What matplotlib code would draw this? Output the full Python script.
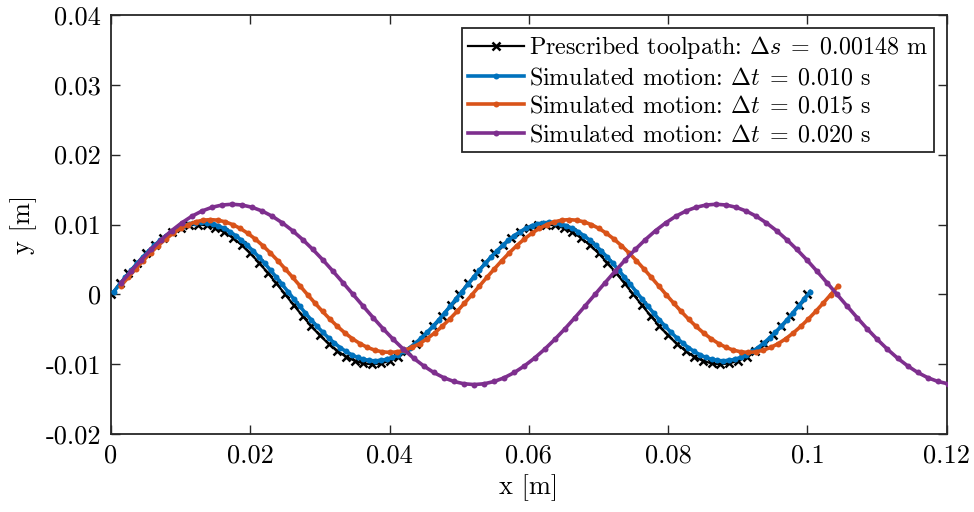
import numpy as np
import matplotlib
matplotlib.use("Agg")
from matplotlib import pyplot as plt

plt.rcParams.update({
    "font.family": "serif",
    "font.serif": ["cmr10"],
    "mathtext.fontset": "cm",
    "axes.unicode_minus": False,
    "axes.formatter.use_mathtext": True,
})

# values in mm
black_x_mm = [0, 1.25, 2.5, 3.75, 5, 6.25, 7.5, 8.75, 10, 11.25, 12.5, 13.75, 15, 16.25, 17.5,
              18.75, 20, 21.25, 22.5, 23.75, 25, 26.25, 27.5, 28.75, 30, 31.25, 32.5, 33.75,
              35, 36.25, 37.5, 38.75, 40, 41.25, 42.5, 43.75, 45, 46.25, 47.5, 48.75, 50,
              51.25, 52.5, 53.75, 55, 56.25, 57.5, 58.75, 60, 61.25, 62.5, 63.75, 65, 66.25,
              67.5, 68.75, 70, 71.25, 72.5, 73.75, 75, 76.25, 77.5, 78.75, 80, 81.25, 82.5,
              83.75, 85, 86.25, 87.5, 88.75, 90, 91.25, 92.5, 93.75, 95, 96.25, 97.5, 98.75, 100]
black_y_mm = [0, 1.56, 3.09, 4.54, 5.88, 7.07, 8.09, 8.91, 9.51, 9.88, 10.0, 9.88, 9.51, 8.91,
              8.09, 7.07, 5.88, 4.54, 3.09, 1.56, 0, -1.56, -3.09, -4.54, -5.88, -7.07, -8.09,
              -8.91, -9.51, -9.88, -10.0, -9.88, -9.51, -8.91, -8.09, -7.07, -5.88, -4.54,
              -3.09, -1.56,
              0, 1.56, 3.09, 4.54, 5.88, 7.07, 8.09, 8.91, 9.51, 9.88, 10.0, 9.88, 9.51, 8.91,
              8.09, 7.07, 5.88, 4.54, 3.09, 1.56, 0, -1.56, -3.09, -4.54, -5.88, -7.07, -8.09,
              -8.91, -9.51, -9.88, -10.0, -9.88, -9.51, -8.91, -8.09, -7.07, -5.88, -4.54,
              -3.09, -1.56, 0]

blue_x_mm = [0.40, 1.23, 2.07, 2.90, 3.73, 4.57, 5.40, 6.23, 7.07, 7.90, 8.73, 9.57,
             10.40, 11.23, 12.07, 12.90, 13.73, 14.57, 15.40, 16.23, 17.07, 17.90, 18.73, 19.57,
             20.40, 21.23, 22.07, 22.90, 23.73, 24.57, 25.40, 26.23, 27.07, 27.90, 28.73, 29.57,
             30.40, 31.23, 32.07, 32.90, 33.73, 34.57, 35.40, 36.23, 37.07, 37.90, 38.73, 39.57,
             40.40, 41.23, 42.07, 42.90, 43.73, 44.57, 45.40, 46.23, 47.07, 47.90, 48.73, 49.57,
             50.40, 51.23, 52.07, 52.90, 53.73, 54.57, 55.40, 56.23, 57.07, 57.90, 58.73, 59.57,
             60.40, 61.23, 62.07, 62.90, 63.73, 64.57, 65.40, 66.23, 67.07, 67.90, 68.73, 69.57,
             70.40, 71.23, 72.07, 72.90, 73.73, 74.57, 75.40, 76.23, 77.07, 77.90, 78.73, 79.57,
             80.40, 81.23, 82.07, 82.90, 83.73, 84.57, 85.40, 86.23, 87.07, 87.90, 88.73, 89.57,
             90.40, 91.23, 92.07, 92.90, 93.73, 94.57, 95.40, 96.23, 97.07, 97.90, 98.73, 99.57,
             100.40]
blue_y_mm = [0.40, 1.43, 2.46, 3.46, 4.43, 5.35, 6.22, 7.02, 7.76, 8.41, 8.97, 9.44, 9.82,
             10.08, 10.25, 10.30, 10.25, 10.08, 9.82, 9.44, 8.97, 8.41, 7.76, 7.02, 6.22, 5.35,
             4.43, 3.46, 2.46, 1.43, 0.40, -0.64, -1.66, -2.66, -3.63, -4.55, -5.42, -6.22,
             -6.96, -7.61, -8.17, -8.64, -9.02, -9.28, -9.45, -9.50, -9.45, -9.28, -9.02, -8.64,
             -8.17, -7.61, -6.96, -6.22, -5.42, -4.55, -3.63, -2.66, -1.66, -0.64,
             0.40, 1.43, 2.46, 3.46, 4.43, 5.35, 6.22, 7.02, 7.76, 8.41, 8.97, 9.44, 9.82,
             10.08, 10.25, 10.30, 10.25, 10.08, 9.82, 9.44, 8.97, 8.41, 7.76, 7.02, 6.22, 5.35,
             4.43, 3.46, 2.46, 1.43, 0.40, -0.64, -1.66, -2.66, -3.63, -4.55, -5.42, -6.22,
             -6.96, -7.61, -8.17, -8.64, -9.02, -9.28, -9.45, -9.50, -9.45, -9.28, -9.02, -8.64,
             -8.17, -7.61, -6.96, -6.22, -5.42, -4.55, -3.63, -2.66, -1.66, -0.64, 0.40]

orange_x_mm = [1.40, 2.47, 3.55, 4.62, 5.69, 6.76, 7.84, 8.91, 9.98, 11.06,
               12.13, 13.20, 14.28, 15.35, 16.42, 17.49, 18.57, 19.64, 20.71, 21.79,
               22.86, 23.93, 25.00, 26.08, 27.15, 28.22, 29.30, 30.37, 31.44, 32.51,
               33.59, 34.66, 35.73, 36.81, 37.88, 38.95, 40.03, 41.10, 42.17, 43.24,
               44.32, 45.39, 46.46, 47.54, 48.61, 49.68, 50.75, 51.83, 52.90, 53.97,
               55.05, 56.12, 57.19, 58.26, 59.34, 60.41, 61.48, 62.56, 63.63, 64.70,
               65.78, 66.85, 67.92, 68.99, 70.07, 71.14, 72.21, 73.29, 74.36, 75.43,
               76.50, 77.58, 78.65, 79.72, 80.80, 81.87, 82.94, 84.01, 85.09, 86.16,
               87.23, 88.31, 89.38, 90.45, 91.53, 92.60, 93.67, 94.74, 95.82, 96.89,
               97.96, 99.04, 100.11, 101.18, 102.25, 103.33, 104.40]
orange_y_mm = [1.20, 2.44, 3.66, 4.84, 5.95, 6.98, 7.92, 8.74, 9.43, 9.98, 10.38, 10.62, 10.70,
               10.62, 10.38, 9.98, 9.43, 8.74, 7.92, 6.98, 5.95, 4.84, 3.66, 2.44, 1.20, -0.04,
               -1.26, -2.44, -3.55, -4.58, -5.52, -6.34, -7.03, -7.58, -7.98, -8.22, -8.30,
               -8.22, -7.98, -7.58, -7.03, -6.34, -5.52, -4.58, -3.55, -2.44, -1.26, -0.04,
               1.20, 2.44, 3.66, 4.84, 5.95, 6.98, 7.92, 8.74, 9.43, 9.98, 10.38, 10.62, 10.70,
               10.62, 10.38, 9.98, 9.43, 8.74, 7.92, 6.98, 5.95, 4.84, 3.66, 2.44, 1.20, -0.04,
               -1.26, -2.44, -3.55, -4.58, -5.52, -6.34, -7.03, -7.58, -7.98, -8.22, -8.30,
               -8.22, -7.98, -7.58, -7.03, -6.34, -5.52, -4.58, -3.55, -2.44, -1.26, -0.04, 1.20]

purple_x_mm = [1.45, 2.90, 4.34, 5.79, 7.24, 8.69, 10.14, 11.58, 13.03, 14.48, 15.93, 17.38,
               18.82, 20.27, 21.72, 23.17, 24.61, 26.06, 27.51, 28.96, 30.41, 31.85, 33.30,
               34.75, 36.20, 37.65, 39.09, 40.54, 41.99, 43.44, 44.89, 46.33, 47.78, 49.23,
               50.68, 52.13, 53.57, 55.02, 56.47, 57.92, 59.36, 60.81, 62.26, 63.71, 65.16,
               66.60, 68.05, 69.50, 70.95, 72.40, 73.84, 75.29, 76.74, 78.19, 79.64, 81.08,
               82.53, 83.98, 85.43, 86.88, 88.32, 89.77, 91.22, 92.67, 94.11, 95.56, 97.01,
               98.46, 99.91, 101.35, 102.80, 104.25, 105.70, 107.15, 108.59, 110.04, 111.49,
               112.94, 114.39, 115.83, 117.28, 118.73, 120.18]
purple_y_mm = [1.68, 3.34, 4.94, 6.45, 7.85, 9.12, 10.23, 11.17, 11.92, 12.46, 12.79, 12.90,
               12.79, 12.46, 11.92, 11.17, 10.23, 9.12, 7.85, 6.45, 4.94, 3.34, 1.68, 0,
               -1.68, -3.34, -4.94, -6.45, -7.85, -9.12, -10.23, -11.17, -11.92, -12.46, -12.79,
               -12.90, -12.79, -12.46, -11.92, -11.17, -10.23, -9.12, -7.85, -6.45, -4.94, -3.34,
               -1.68, 0,
               1.68, 3.34, 4.94, 6.45, 7.85, 9.12, 10.23, 11.17, 11.92, 12.46, 12.79, 12.90,
               12.79, 12.46, 11.92, 11.17, 10.23, 9.12, 7.85, 6.45, 4.94, 3.34, 1.68, 0,
               -1.68, -3.34, -4.94, -6.45, -7.85, -9.12, -10.23, -11.17, -11.92, -12.46, -12.79]

labels = [
    r"Prescribed toolpath: $\Delta s \;=\; 0.00148$ m",
    r"Simulated motion: $\Delta t \;=\; 0.010$ s",
    r"Simulated motion: $\Delta t \;=\; 0.015$ s",
    r"Simulated motion: $\Delta t \;=\; 0.020$ s",
]
xticks = [0, 0.02, 0.04, 0.06, 0.08, 0.1, 0.12]
xticklabels = ["0", "0.02", "0.04", "0.06", "0.08", "0.1", "0.12"]
yticks = [-0.02, -0.01, 0, 0.01, 0.02, 0.03, 0.04]
yticklabels = ["-0.02", "-0.01", "0", "0.01", "0.02", "0.03", "0.04"]

colors = ["#0072BD", "#D95319", "#7E2F8E"]

fig = plt.figure(figsize=(9.74, 5.12), dpi=100)
ax = fig.add_axes([0.114, 0.152, 0.858, 0.819])

ax.plot(np.array(black_x_mm) / 1000, np.array(black_y_mm) / 1000, color="black", lw=1.6,
        marker="x", markersize=6, markeredgewidth=1.8, label=labels[0], zorder=2)
sims = [(blue_x_mm, blue_y_mm), (orange_x_mm, orange_y_mm), (purple_x_mm, purple_y_mm)]
for i, (xs, ys) in enumerate(sims):
    ax.plot(np.array(xs) / 1000, np.array(ys) / 1000, color=colors[i], lw=2.6,
            marker="o", markersize=4.3, markeredgewidth=0, label=labels[i + 1], zorder=3 + i)

ax.set_xlim(0, 0.12)
ax.set_ylim(-0.02, 0.04)
ax.set_xticks(xticks)
ax.set_xticklabels(xticklabels)
ax.set_yticks(yticks)
ax.set_yticklabels(yticklabels)
ax.tick_params(direction="in", top=True, right=True, length=6.5, width=1.0,
               labelsize=19, pad=7, color="#262626")
for s in ax.spines.values():
    s.set_linewidth(1.3)
    s.set_color("#262626")

ax.set_xlabel("x [m]", fontsize=19, labelpad=5)
ax.set_ylabel("y [m]", fontsize=19, labelpad=6)

leg = ax.legend(loc="upper right", fontsize=17.3, handlelength=2.3, handletextpad=0.2,
                borderpad=0.25, labelspacing=0.26, fancybox=False, framealpha=1,
                borderaxespad=0.55)
leg.get_frame().set_edgecolor("#262626")
leg.get_frame().set_linewidth(1.3)

fig.savefig("out.png", dpi=100)
